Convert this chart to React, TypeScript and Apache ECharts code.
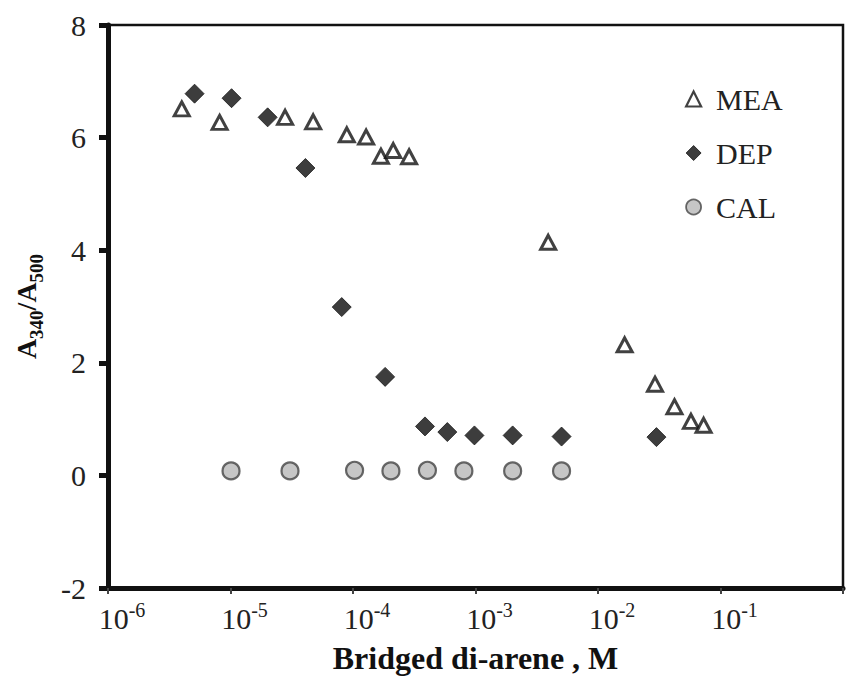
import React, { useEffect, useRef } from "react";
import * as echarts from "echarts";

const seriesNames = ["MEA", "DEP", "CAL"];
const meaX = [4.0e-6, 8.15e-6, 2.79e-5, 4.73e-5, 8.9e-5, 1.28e-4, 1.69e-4, 2.13e-4, 2.87e-4, 3.92e-3, 0.0165, 0.0292, 0.0421, 0.0574, 0.0728];
const meaY = [6.51, 6.27, 6.36, 6.28, 6.05, 6.01, 5.67, 5.77, 5.66, 4.14, 2.32, 1.62, 1.22, 0.96, 0.89];
const depX = [5.09e-6, 1.02e-5, 2.01e-5, 4.09e-5, 8.09e-5, 1.83e-4, 3.87e-4, 5.89e-4, 9.8e-4, 2.01e-3, 5.04e-3, 0.03];
const depY = [6.78, 6.7, 6.36, 5.46, 2.99, 1.75, 0.87, 0.77, 0.71, 0.71, 0.69, 0.68];
const calX = [1.01e-5, 3.06e-5, 1.03e-4, 2.04e-4, 4.05e-4, 8.04e-4, 2.01e-3, 5.04e-3];
const calY = [0.08, 0.08, 0.09, 0.08, 0.09, 0.08, 0.08, 0.08];
const xAxisTitle = "Bridged di-arene , M";

const FONT = "Liberation Serif";
const INK = "#111111";

const zip = (xs: number[], ys: number[]) => xs.map((x, i) => [x, ys[i]]);

export default function App() {
  const ref = useRef<HTMLDivElement>(null);
  useEffect(() => {
    if (!ref.current) return;
    const chart = echarts.init(ref.current, null, { renderer: "svg" });
    const meaStyle = { color: "#ffffff", borderColor: INK, borderWidth: 3 };
    const depStyle = { color: "#0d0d0d", borderColor: "#1a1a1a", borderWidth: 1 };
    const calStyle = { color: "#b8b8b8", borderColor: "#444", borderWidth: 2.2 };
    chart.setOption({
      animation: false,
      backgroundColor: "#ffffff",
      textStyle: { fontFamily: FONT },
      grid: {
        left: 108,
        right: 3,
        top: 25,
        bottom: 87,
        show: true,
        borderColor: INK,
        borderWidth: 2.5,
        containLabel: false,
      },
      legend: {
        orient: "vertical",
        left: 680,
        top: 79,
        itemWidth: 15,
        itemHeight: 15,
        itemGap: 24,
        textStyle: {
          fontFamily: FONT,
          fontSize: 30,
          color: "#222",
          lineHeight: 30,
          padding: [0, 0, 0, 10],
        },
        data: [
          { name: seriesNames[0], icon: "triangle", itemStyle: { ...meaStyle, borderWidth: 2.2 } },
          { name: seriesNames[1], icon: "diamond", itemStyle: depStyle },
          { name: seriesNames[2], icon: "circle", itemStyle: { ...calStyle, borderWidth: 1.8 } },
        ],
      },
      xAxis: {
        type: "log",
        logBase: 10,
        min: 1e-6,
        max: 1,
        name: xAxisTitle,
        nameLocation: "middle",
        nameGap: 54,
        nameTextStyle: {
          fontFamily: FONT,
          fontSize: 32,
          fontWeight: "bold",
          color: "#111",
        },
        axisLine: { show: true, onZero: false, lineStyle: { color: INK, width: 5 } },
        axisTick: { show: true, length: 6, lineStyle: { color: "#444", width: 2 } },
        splitLine: { show: false },
        minorTick: { show: false },
        axisLabel: {
          margin: 12,
          fontFamily: FONT,
          formatter: (v: number) => {
            const e = Math.round(Math.log10(v));
            if (e >= 0) return "";
            return "{pad| }{b|10}{s|" + e + "}";
          },
          rich: {
            pad: { width: 28, fontSize: 10, fontFamily: FONT },
            b: { fontFamily: FONT, fontSize: 30, color: "#222", lineHeight: 33, verticalAlign: "bottom" },
            s: { fontFamily: FONT, fontSize: 20, color: "#222", verticalAlign: "top" },
          },
        },
      },
      yAxis: {
        type: "value",
        min: -2,
        max: 8,
        interval: 2,
        name: "{a|A}{s|340}{a|/A}{s|500}",
        nameLocation: "middle",
        nameRotate: 90,
        nameGap: 62,
        nameTextStyle: {
          fontFamily: FONT,
          rich: {
            a: { fontFamily: FONT, fontSize: 28, fontWeight: "bold", color: "#111", lineHeight: 34, verticalAlign: "top" },
            s: { fontFamily: FONT, fontSize: 19, fontWeight: "bold", color: "#111", verticalAlign: "bottom" },
          },
        },
        axisLine: { show: true, onZero: false, lineStyle: { color: INK, width: 5 } },
        axisTick: { show: true, length: 9, lineStyle: { color: INK, width: 5 } },
        splitLine: { show: false },
        axisLabel: {
          margin: 22,
          fontFamily: FONT,
          fontSize: 30,
          color: "#222",
        },
      },
      series: [
        {
          name: seriesNames[0],
          type: "scatter",
          symbol: "triangle",
          symbolSize: [15, 14],
          itemStyle: meaStyle,
          data: zip(meaX, meaY),
          z: 3,
        },
        {
          name: seriesNames[1],
          type: "scatter",
          symbol: "diamond",
          symbolSize: [19, 19],
          itemStyle: depStyle,
          data: zip(depX, depY),
          z: 2,
        },
        {
          name: seriesNames[2],
          type: "scatter",
          symbol: "circle",
          symbolSize: 17,
          itemStyle: calStyle,
          data: zip(calX, calY),
          z: 2,
        },
      ],
    });
    return () => chart.dispose();
  }, []);
  return (
    <div
      ref={ref}
      style={{ position: "fixed", left: 0, top: 0, width: 846, height: 679, background: "#fff" }}
    />
  );
}
